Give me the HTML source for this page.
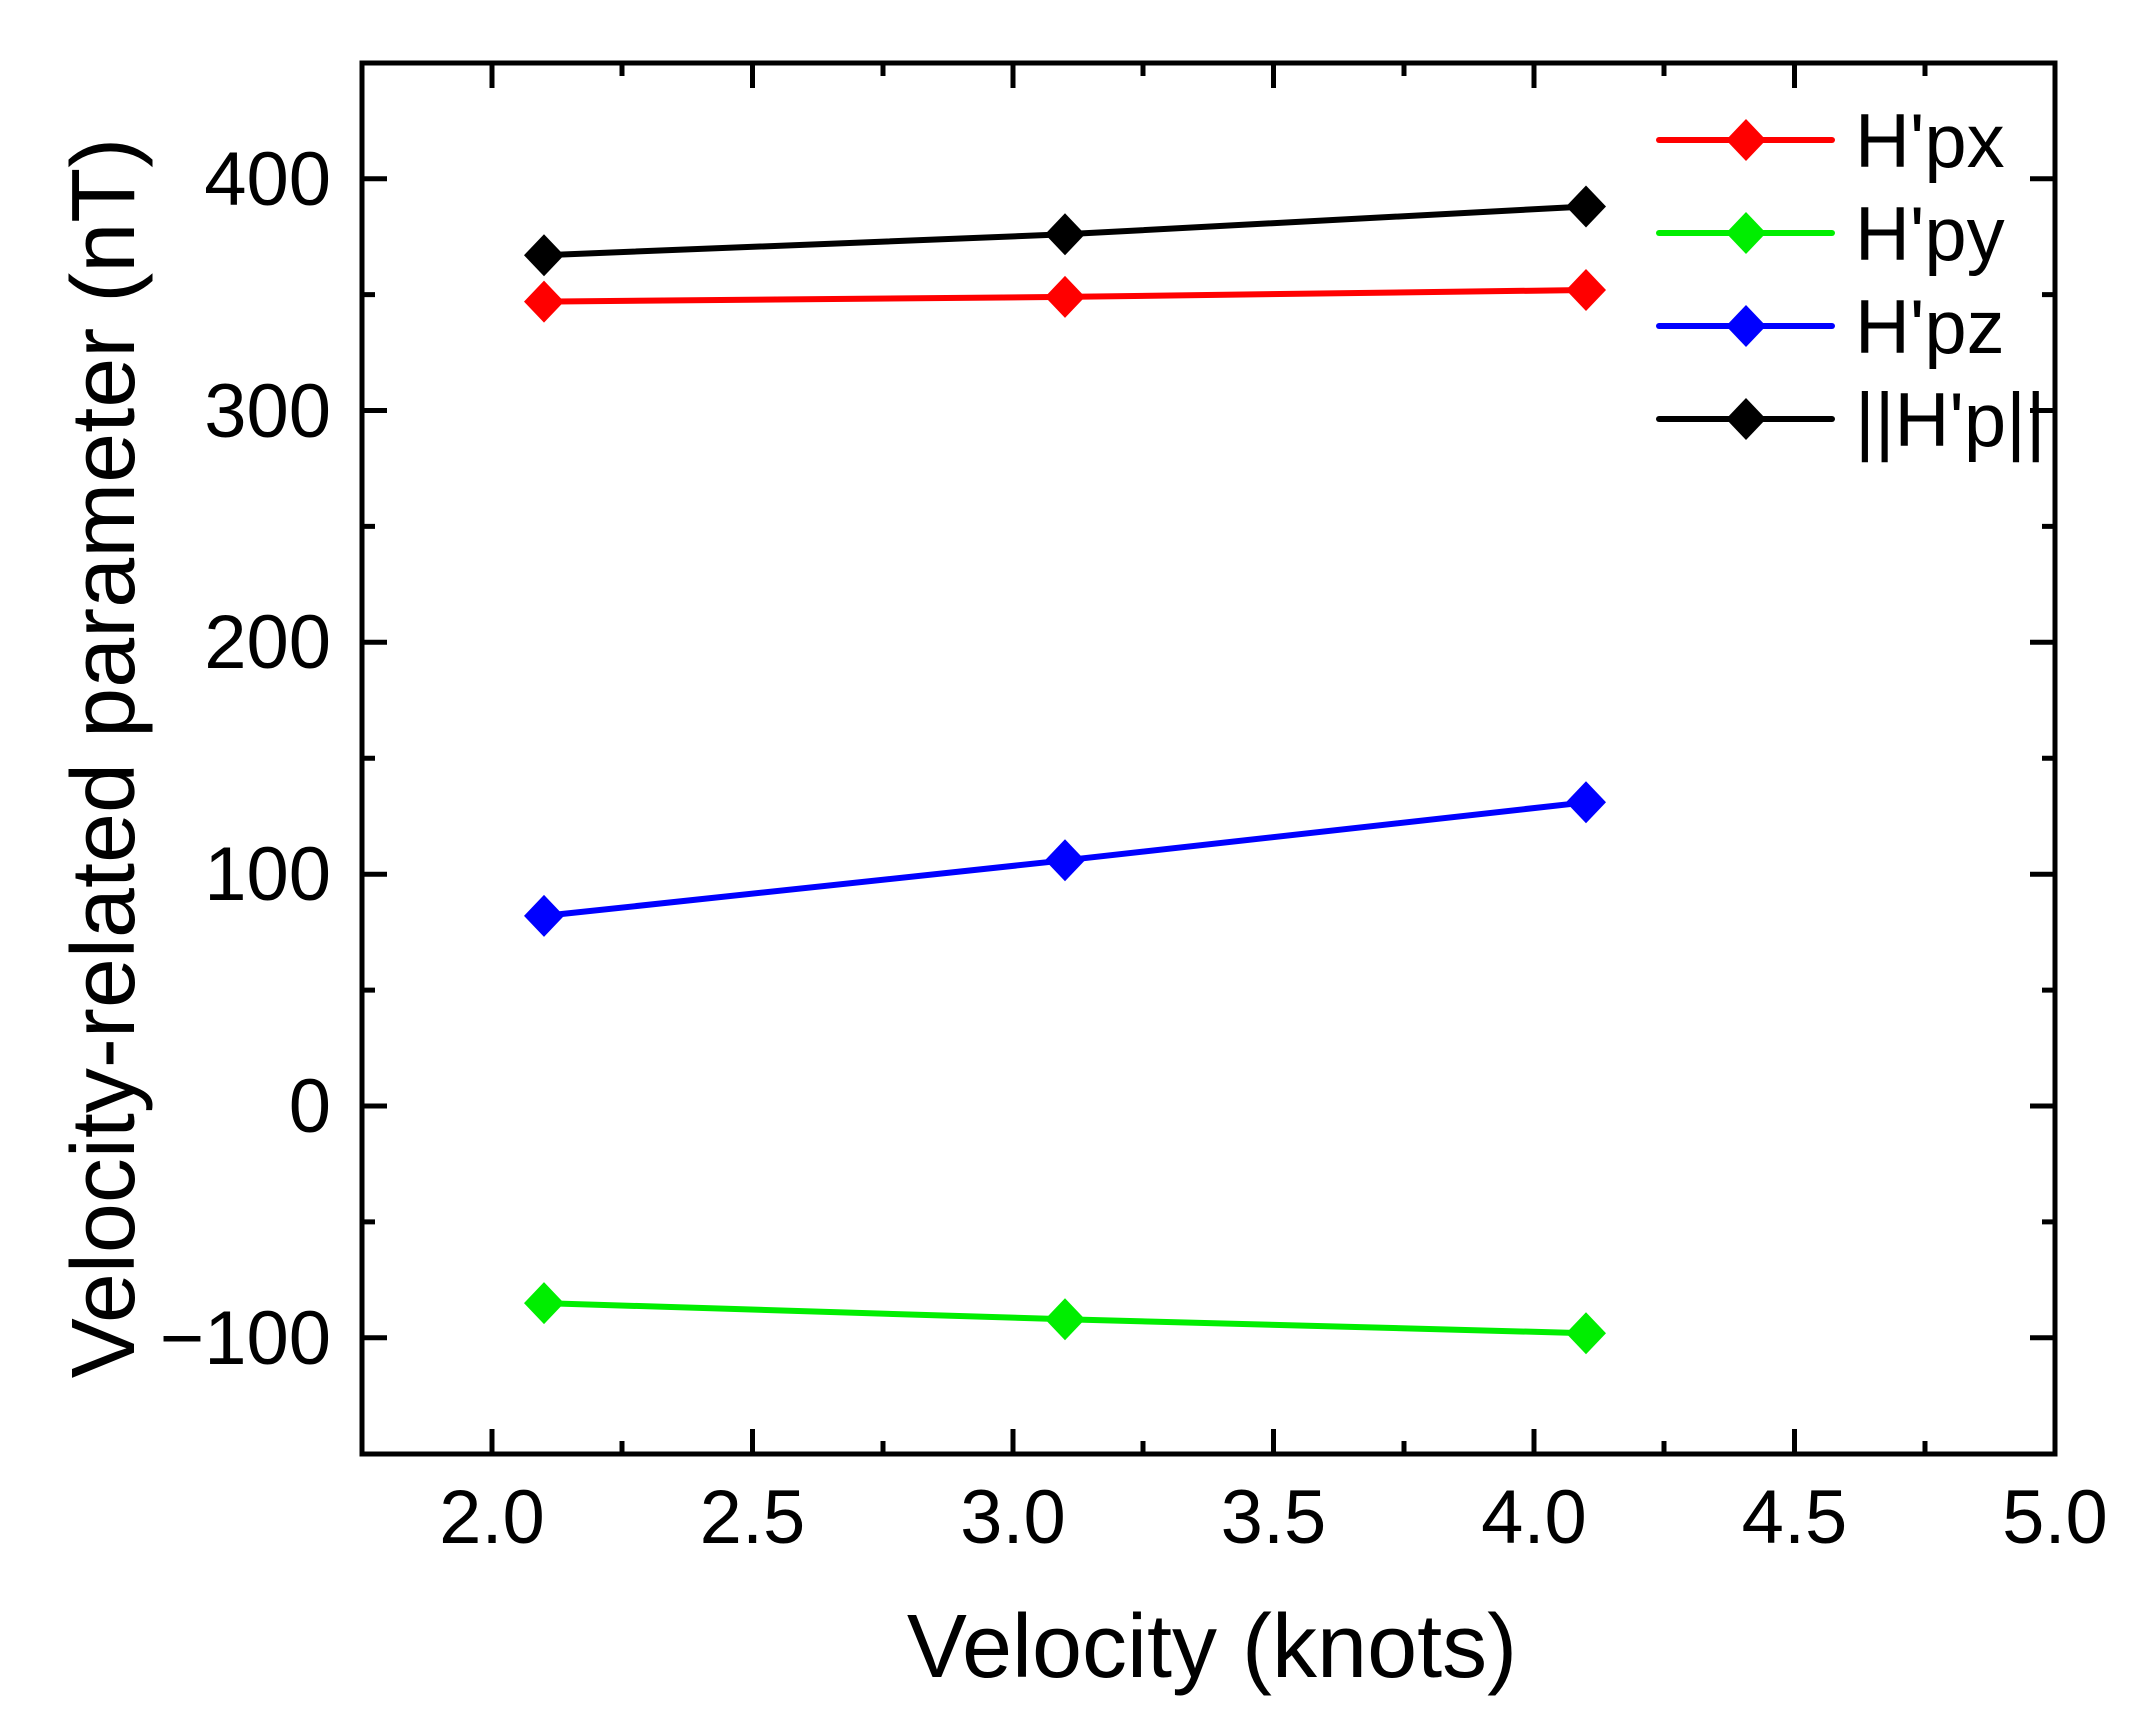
<!DOCTYPE html>
<html><head><meta charset="utf-8"><style>
html,body{margin:0;padding:0;background:#fff;}
svg{display:block;}
text{font-family:"Liberation Sans",Arial,sans-serif;fill:#000;}
</style></head><body>
<svg width="2154" height="1731" viewBox="0 0 2154 1731" xmlns="http://www.w3.org/2000/svg">
<g stroke="#000" stroke-width="5" fill="none">
<rect x="362" y="63" width="1693" height="1391"/>
<path d="M492 1454v-25M752.5 1454v-25M1013 1454v-25M1273.5 1454v-25M1534 1454v-25M1794.5 1454v-25
M492 63v25M752.5 63v25M1013 63v25M1273.5 63v25M1534 63v25M1794.5 63v25"/>
<path d="M622 1454v-13M883 1454v-13M1143 1454v-13M1404 1454v-13M1664 1454v-13M1925 1454v-13
M622 63v13M883 63v13M1143 63v13M1404 63v13M1664 63v13M1925 63v13"/>
<path d="M362 1337.8h25M362 1106h25M362 874.2h25M362 642.3h25M362 410.5h25M362 178.7h25
M2055 1337.8h-25M2055 1106h-25M2055 874.2h-25M2055 642.3h-25M2055 410.5h-25M2055 178.7h-25"/>
<path d="M362 1221.9h13M362 990.1h13M362 758.2h13M362 526.4h13M362 294.6h13
M2055 1221.9h-13M2055 990.1h-13M2055 758.2h-13M2055 526.4h-13M2055 294.6h-13"/>
</g>
<g stroke-width="6" fill="none" stroke-linejoin="round">
<polyline stroke="#000" points="544,255.2 1065,234.3 1586,206.5"/>
<polyline stroke="#ff0000" points="544,301.6 1065,296.9 1586,290"/>
<polyline stroke="#0000ff" points="544,915.9 1065,860.3 1586,802.3"/>
<polyline stroke="#00ee00" points="544,1303.1 1065,1319.3 1586,1333.2"/>
</g>
<defs><path id="d" d="M0,-21 L20,0 L0,21 L-20,0Z"/></defs>
<g fill="#000"><use href="#d" x="544" y="255.2"/><use href="#d" x="1065" y="234.3"/><use href="#d" x="1586" y="206.5"/></g>
<g fill="#ff0000"><use href="#d" x="544" y="301.6"/><use href="#d" x="1065" y="296.9"/><use href="#d" x="1586" y="290"/></g>
<g fill="#0000ff"><use href="#d" x="544" y="915.9"/><use href="#d" x="1065" y="860.3"/><use href="#d" x="1586" y="802.3"/></g>
<g fill="#00ee00"><use href="#d" x="544" y="1303.1"/><use href="#d" x="1065" y="1319.3"/><use href="#d" x="1586" y="1333.2"/></g>
<g stroke-width="6" stroke-linecap="round">
<line x1="1659" y1="140" x2="1832" y2="140" stroke="#ff0000"/>
<line x1="1659" y1="233" x2="1832" y2="233" stroke="#00ee00"/>
<line x1="1659" y1="326" x2="1832" y2="326" stroke="#0000ff"/>
<line x1="1659" y1="419" x2="1832" y2="419" stroke="#000"/>
</g>
<use href="#d" x="1746" y="140" fill="#ff0000"/>
<use href="#d" x="1746" y="233" fill="#00ee00"/>
<use href="#d" x="1746" y="326" fill="#0000ff"/>
<use href="#d" x="1746" y="419" fill="#000"/>
<g font-size="76">
<text x="1855" y="167">H'px</text>
<text x="1855" y="260">H'py</text>
<text x="1855" y="353">H'pz</text>
<text x="1855" y="446">||H'p||</text>
</g>
<g font-size="76" text-anchor="middle">
<text x="492" y="1543">2.0</text><text x="752.5" y="1543">2.5</text><text x="1013" y="1543">3.0</text>
<text x="1273.5" y="1543">3.5</text><text x="1534" y="1543">4.0</text><text x="1794.5" y="1543">4.5</text><text x="2055" y="1543">5.0</text>
</g>
<g font-size="76" text-anchor="end">
<text x="331" y="1364">−100</text><text x="331" y="1132">0</text><text x="331" y="900">100</text>
<text x="331" y="668">200</text><text x="331" y="437">300</text><text x="331" y="205">400</text>
</g>
<text x="1212" y="1677" font-size="90" text-anchor="middle">Velocity (knots)</text>
<text transform="translate(134,758) rotate(-90)" font-size="90" text-anchor="middle">Velocity-related parameter (nT)</text>
</svg>
</body></html>
